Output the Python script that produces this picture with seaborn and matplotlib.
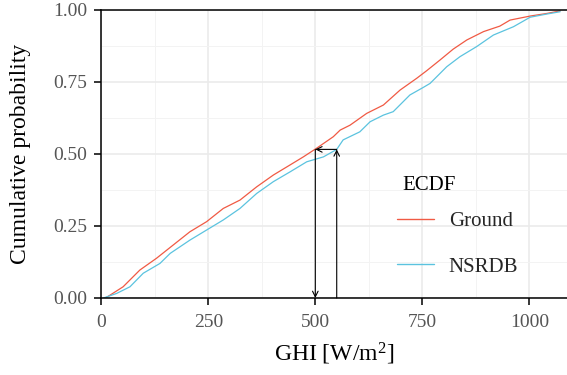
import matplotlib
matplotlib.use("Agg")
import matplotlib.pyplot as plt
from matplotlib.ticker import MultipleLocator, FormatStrFormatter
import seaborn as sns
import pandas as pd

# Empirical CDF of hourly GHI, ground station vs. NSRDB
ground_ghi = [10, 51, 90, 129, 168, 207, 246, 285, 324, 363, 402, 441, 472, 503,
              542, 558, 581, 620, 659, 698, 737, 760, 791, 822, 854, 893, 931,
              955, 1002, 1041, 1072]
ground_prob = [0.0, 0.039, 0.097, 0.138, 0.184, 0.23, 0.265, 0.311, 0.34, 0.386,
               0.427, 0.462, 0.49, 0.52, 0.56, 0.583, 0.60, 0.641, 0.67, 0.722,
               0.763, 0.789, 0.826, 0.864, 0.896, 0.925, 0.944, 0.965, 0.979,
               0.988, 0.997]
nsrdb_ghi = [5, 36, 67, 98, 137, 161, 207, 246, 285, 324, 363, 402, 441, 480, 519,
             550, 565, 604, 628, 659, 682, 721, 752, 768, 807, 838, 877, 916, 963,
             1002, 1041, 1072]
nsrdb_prob = [0.0, 0.016, 0.039, 0.086, 0.12, 0.155, 0.201, 0.236, 0.271, 0.311,
              0.363, 0.404, 0.438, 0.473, 0.49, 0.516, 0.549, 0.577, 0.612, 0.635,
              0.647, 0.705, 0.731, 0.745, 0.803, 0.838, 0.873, 0.913, 0.942,
              0.975, 0.986, 0.994]
sources = ["Ground", "NSRDB"]
palette = {"Ground": "#F05A44", "NSRDB": "#5BC3DF"}

# Quantile read-off: the same probability level on both curves
ref_level = 0.516
ground_at = 500
nsrdb_at = 550

df = pd.concat([
    pd.DataFrame({"GHI": ground_ghi, "prob": ground_prob, "ECDF": sources[0]}),
    pd.DataFrame({"GHI": nsrdb_ghi, "prob": nsrdb_prob, "ECDF": sources[1]}),
])

sns.set_theme(style="white")
plt.rcParams["font.family"] = ["Liberation Serif", "DejaVu Serif"]
plt.rcParams["mathtext.fontset"] = "stix"

fig = plt.figure(figsize=(5.67, 3.75), dpi=100)
ax = fig.add_axes([101.3 / 567, 77 / 375, 1 - 101.3 / 567, 288 / 375])

sns.lineplot(data=df, x="GHI", y="prob", hue="ECDF", hue_order=sources,
             palette=palette, sort=False, estimator=None, linewidth=0.9, ax=ax)

ax.set_xlim(0, 1088)
ax.set_ylim(0, 1)
ax.xaxis.set_major_locator(MultipleLocator(250))
ax.xaxis.set_minor_locator(MultipleLocator(125))
ax.yaxis.set_major_locator(MultipleLocator(0.25))
ax.yaxis.set_minor_locator(MultipleLocator(0.125))
ax.yaxis.set_major_formatter(FormatStrFormatter("%.2f"))

ax.grid(which="major", color="#EBEBEB", linewidth=1.2)
ax.grid(which="minor", color="#F3F3F3", linewidth=0.7)
ax.set_axisbelow(True)

for side in ["top", "right"]:
    ax.spines[side].set_visible(False)
for side in ["left", "bottom"]:
    ax.spines[side].set_color("black")
    ax.spines[side].set_linewidth(1.1)
ax.axhline(1.0, color="black", linewidth=1.1, zorder=3, clip_on=False)

ax.tick_params(axis="both", which="major", direction="out", length=5, width=1.1,
               color="black", labelsize=14, labelcolor="#555555", pad=5,
               bottom=True, left=True)
ax.tick_params(axis="x", which="major", pad=6.5)
ax.tick_params(which="minor", length=0)

ax.set_xlabel(r"GHI [W$\mathregular{/m^2}$]", fontsize=17, color="black", labelpad=7)
ax.set_ylabel("Cumulative probability", fontsize=17, color="black", labelpad=16)

arrow = dict(arrowstyle="->", color="black", linewidth=0.8,
             shrinkA=0, shrinkB=0, mutation_scale=10)
ax.annotate("", xy=(ground_at, 0), xytext=(ground_at, ref_level), arrowprops=arrow)
ax.annotate("", xy=(nsrdb_at, ref_level), xytext=(nsrdb_at, 0), arrowprops=arrow)
ax.annotate("", xy=(ground_at, ref_level), xytext=(nsrdb_at, ref_level), arrowprops=arrow)

leg = ax.legend(loc="upper left", bbox_to_anchor=(389 / 567, 1 - 203 / 375),
                bbox_transform=fig.transFigure, frameon=False, fontsize=15,
                handlelength=1.75, handletextpad=0.72,
                labelspacing=1.25, borderaxespad=0)
for line in leg.get_lines():
    line.set_linewidth(1.0)
fig.text(402 / 567, 1 - 185 / 375, "ECDF", fontsize=15, color="black",
         ha="left", va="center")

fig.savefig("out.png", dpi=100)
